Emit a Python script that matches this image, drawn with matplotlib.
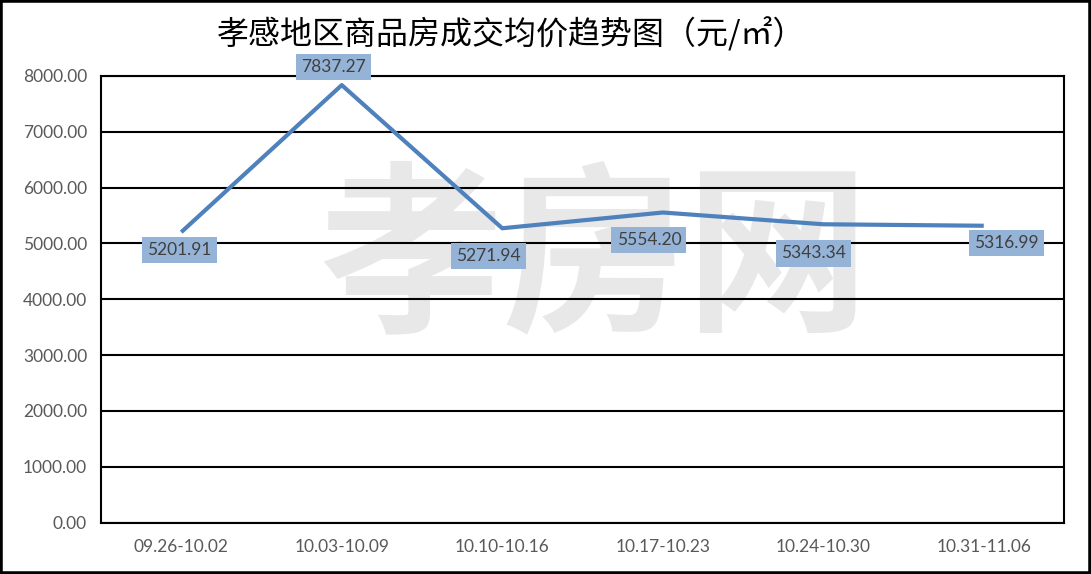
import matplotlib
matplotlib.use('Agg')
import matplotlib.pyplot as plt
from matplotlib.patches import Rectangle

# chart data
weeks = ['09.26-10.02', '10.03-10.09', '10.10-10.16', '10.17-10.23', '10.24-10.30', '10.31-11.06']
avg_price = [5201.91, 7837.27, 5271.94, 5554.20, 5343.34, 5316.99]
# label offsets (points) as they were placed in the source chart
label_dx = [-1.5, -6, -10, -10, -7, 16.5]
label_dy = [-13, 13, -20, -20, -21, -12.5]

title = '孝感地区商品房成交均价趋势图（元/㎡）'
watermark = '孝房网'

line_color = '#4F81BD'
box_color = '#95B3D7'
text_gray = '#595959'

plt.rcParams['font.family'] = ['Lato', 'DejaVu Sans']

fig = plt.figure(figsize=(10.91, 5.74), dpi=100)
ax = fig.add_axes([101 / 1091, 1 - 522.5 / 574, 963 / 1091, 446.5 / 574])

# watermark behind everything
ax.text(0.512, 0.58, watermark, transform=ax.transAxes, ha='center', va='center',
        fontsize=132, color='#e8e8e8', fontweight='bold',
        family=['Noto Sans CJK SC', 'DejaVu Sans'], zorder=0)

x = list(range(len(weeks)))
ax.plot(x, avg_price, color=line_color, lw=3, solid_capstyle='butt', zorder=3)

for i, v in enumerate(avg_price):
    ax.annotate(f'{v:.2f}', (i, v), xytext=(label_dx[i], label_dy[i]),
                textcoords='offset points', ha='center', va='center',
                fontsize=12.5, color='#404040', zorder=4,
                bbox=dict(boxstyle='square,pad=0.3', fc=box_color, ec='none'))

ax.set_xlim(-0.5, len(weeks) - 0.5)
ax.set_ylim(0, 8000)
ax.set_yticks(range(0, 8001, 1000))
ax.set_yticklabels([f'{t:.2f}' for t in range(0, 8001, 1000)])
ax.set_xticks(x)
ax.set_xticklabels(weeks)
ax.tick_params(axis='both', length=0, labelsize=12.5, labelcolor=text_gray)
ax.tick_params(axis='y', pad=10)
ax.tick_params(axis='x', pad=12)

ax.grid(axis='y', color='black', lw=1.5, zorder=1)
ax.set_axisbelow(True)
for s in ax.spines.values():
    s.set_color('black')
    s.set_linewidth(1.5)

fig.text(511 / 1091, 1 - 34 / 574, title, ha='center', va='center', fontsize=23,
         color='black', family=['Noto Sans CJK SC', 'DejaVu Sans'])

# outer frame
fig.patches.append(Rectangle((0, 0), 1, 1, transform=fig.transFigure, fill=False,
                             ec='black', lw=4))

fig.savefig('out.png', dpi=100)
